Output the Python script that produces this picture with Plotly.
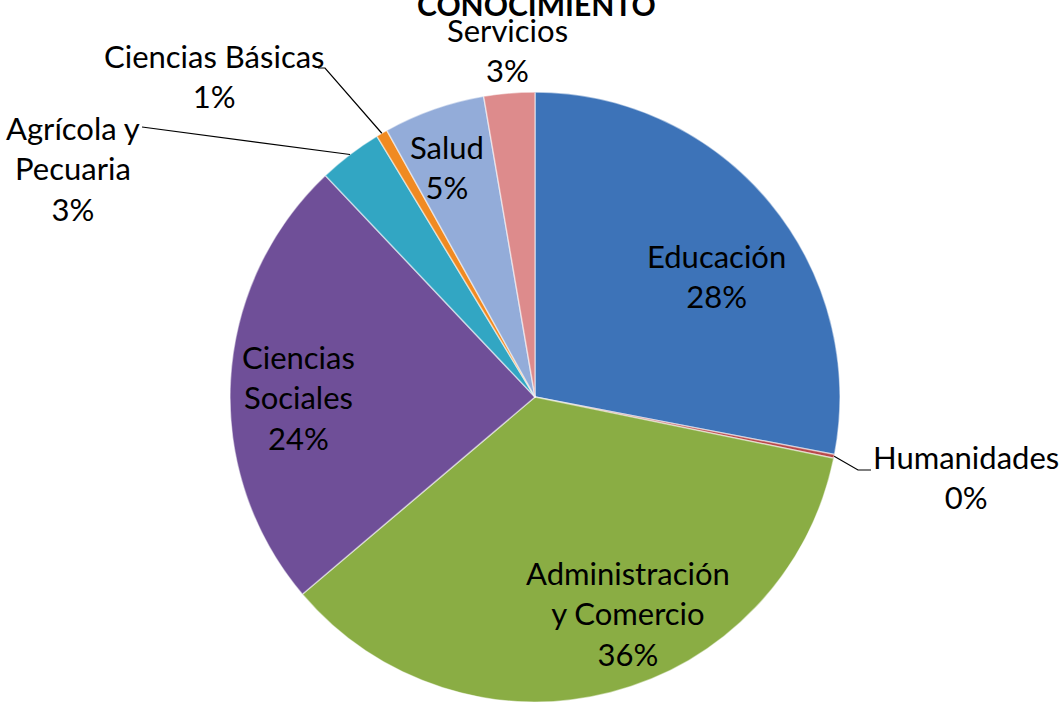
import math
import plotly.graph_objects as go

# ---- data ----
categories = ["Educación", "Humanidades", "Administración y Comercio", "Ciencias Sociales",
              "Agrícola y Pecuaria", "Ciencias Básicas", "Salud", "Servicios"]
values = [28.1, 0.2, 35.7, 24.2, 3.4, 0.6, 5.4, 2.7]
label_text = ["Educación", "Humanidades", "Administración<br>y Comercio", "Ciencias<br>Sociales",
              "Agrícola y<br>Pecuaria", "Ciencias Básicas", "Salud", "Servicios"]
title_text = "CONOCIMIENTO"

# ---- style ----
colors = ["#3d73b8", "#b8494a", "#8aad44", "#6f4f98", "#32a6c3", "#f08a22", "#93acd9", "#dd8b8c"]
W, H = 1064, 702
CX, CY, R = 535, 397, 305
# label block centres in pixels
label_pos = [(716, 276), (966, 477), (628, 613), (298, 397),
             (73, 169), (214, 76), (447, 167), (507, 50)]
FONT = "Lato"
FS = 31

fig = go.Figure(go.Pie(
    labels=categories, values=values, sort=False, direction="clockwise", rotation=0,
    marker=dict(colors=colors, line=dict(color="rgba(255,255,255,0.5)", width=1.5)),
    textinfo="none", hoverinfo="label+percent", showlegend=False,
    domain=dict(x=[(CX - R) / W, (CX + R) / W], y=[0, 2 * R / H]),
))

total = sum(values)
pct = [round(v / total * 100) for v in values]

def px(x, y):
    return x / W, 1 - y / H

for i, (t, (lx, ly)) in enumerate(zip(label_text, label_pos)):
    xp, yp = px(lx, ly)
    fig.add_annotation(text=f"{t}<br>{pct[i]}%", x=xp, y=yp, xref="paper", yref="paper",
                       xanchor="center", yanchor="middle", showarrow=False,
                       font=dict(family=FONT, size=FS, color="black"), align="center")

# slice mid angles (clockwise from top)
cum = 0
mid = []
for v in values:
    mid.append((cum + v / 2) / total * 2 * math.pi)
    cum += v

def edge(i, rf=1.0):
    a = mid[i]
    return CX + R * rf * math.sin(a), CY - R * rf * math.cos(a)

def path(points):
    pts = [px(x, y) for x, y in points]
    return "M " + " L ".join(f"{x},{y}" for x, y in pts)

leaders = [
    (1, [(858, 470), (871, 470)]),
    (5, [(325, 68), (318, 68)]),
    (4, [(142, 127)]),
]
for i, rest in leaders:
    e = edge(i)
    fig.add_shape(type="path", xref="paper", yref="paper",
                  path=path([e] + rest), line=dict(color="black", width=1.2))

tx, ty = px(536, 4)
fig.add_annotation(text=f"<b>{title_text}</b>", x=tx, y=ty, xref="paper", yref="paper",
                   xanchor="center", yanchor="middle", showarrow=False,
                   font=dict(family=FONT, size=30, color="black"))

fig.update_layout(width=W, height=H, margin=dict(l=0, r=0, t=0, b=0),
                  paper_bgcolor="white", plot_bgcolor="white")
fig.write_html("out.html", config={"displayModeBar": False},
               post_script="document.body.style.margin='0';")
